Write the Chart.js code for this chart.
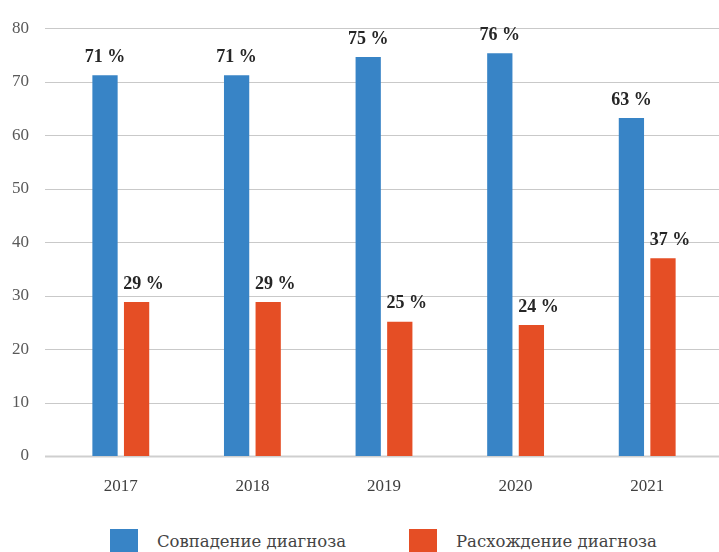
<!DOCTYPE html>
<html>
<head>
<meta charset="utf-8">
<script src="https://cdn.jsdelivr.net/npm/chart.js@4"></script>
<style>
  html, body { margin: 0; padding: 0; background: #fff; }
  #wrap { position: relative; width: 719px; height: 552px; }
  #chart-box { position: absolute; left: 0; top: 0; width: 719px; height: 510px; }
  .legend { position: absolute; top: 529px; left: 0; width: 719px; height: 24px; font-family: "DejaVu Serif", serif; font-size: 16.5px; color: #444; }
  .legend .item { position: absolute; top: 0; height: 24px; line-height: 26px; }
  .legend .box { position: absolute; left: 0; top: 0; width: 28px; height: 24px; }
  .legend .text { position: absolute; left: 47px; top: 0; white-space: nowrap; }
</style>
</head>
<body>
<div id="wrap">
  <div id="chart-box"><canvas id="diag-chart"></canvas></div>
  <div class="legend" id="legend"></div>
</div>
<script>
// Data
const years = ["2017", "2018", "2019", "2020", "2021"];
const matchValues = [71.2, 71.2, 74.6, 75.3, 63.2];
const mismatchValues = [28.8, 28.8, 25.1, 24.5, 37.0];
const matchLabels = ["71 %", "71 %", "75 %", "76 %", "63 %"];
const mismatchLabels = ["29 %", "29 %", "25 %", "24 %", "37 %"];
const seriesNames = ["Совпадение диагноза", "Расхождение диагноза"];

const blue = "#3884c6";
const orange = "#e54e25";

// Grid lines drawn a bit wider than the chart area, like the original
const gridPlugin = {
  id: "wideGrid",
  beforeDatasetsDraw(chart) {
    const { ctx, scales } = chart;
    const y = scales.y;
    ctx.save();
    y.ticks.forEach((t) => {
      const py = Math.round(y.getPixelForValue(t.value)) + 0.5;
      ctx.beginPath();
      ctx.strokeStyle = t.value === 0 ? "#cfcfcf" : "#c9c9c9";
      ctx.lineWidth = t.value === 0 ? 2 : 1;
      ctx.moveTo(45, py);
      ctx.lineTo(chart.width, py);
      ctx.stroke();
    });
    ctx.restore();
  },
};

// Value labels above bars
const labelPlugin = {
  id: "valueLabels",
  afterDatasetsDraw(chart) {
    const { ctx } = chart;
    const texts = [matchLabels, mismatchLabels];
    const shift = [0, 7];
    ctx.save();
    ctx.font = "bold 18px 'Liberation Serif', serif";
    ctx.fillStyle = "#262626";
    ctx.textAlign = "center";
    ctx.textBaseline = "middle";
    chart.data.datasets.forEach((ds, di) => {
      chart.getDatasetMeta(di).data.forEach((bar, i) => {
        ctx.fillText(texts[di][i], bar.x + shift[di], bar.y - 18);
      });
    });
    ctx.restore();
  },
};

const ctx = document.getElementById("diag-chart").getContext("2d");
new Chart(ctx, {
  type: "bar",
  data: {
    labels: years,
    datasets: [
      {
        label: seriesNames[0],
        data: matchValues,
        backgroundColor: blue,
        barPercentage: 0.8,
        categoryPercentage: 0.48,
      },
      {
        label: seriesNames[1],
        data: mismatchValues,
        backgroundColor: orange,
        barPercentage: 0.8,
        categoryPercentage: 0.48,
      },
    ],
  },
  options: {
    responsive: true,
    maintainAspectRatio: false,
    animation: false,
    layout: { padding: { top: 15, right: 6, left: 0, bottom: 0 } },
    plugins: {
      legend: { display: false },
      tooltip: { enabled: false },
    },
    scales: {
      y: {
        min: 0,
        max: 80,
        ticks: {
          stepSize: 10,
          padding: 18,
          color: "#595959",
          font: { family: "'Liberation Serif', serif", size: 17 },
        },
        grid: { display: false },
        border: { display: false },
        afterFit(scale) {
          scale.width = 55;
        },
      },
      x: {
        ticks: {
          padding: 12,
          color: "#404040",
          font: { family: "'Liberation Serif', serif", size: 17 },
        },
        grid: { display: false },
        border: { display: false },
        afterFit(scale) {
          scale.height = 54;
        },
      },
    },
  },
  plugins: [gridPlugin, labelPlugin],
});

// Legend
const legend = document.getElementById("legend");
const legendX = [110, 409];
[blue, orange].forEach((c, i) => {
  const item = document.createElement("div");
  item.className = "item";
  item.style.left = legendX[i] + "px";
  item.innerHTML = `<div class="box" style="background:${c}"></div><div class="text">${seriesNames[i]}</div>`;
  legend.appendChild(item);
});
</script>
</body>
</html>
